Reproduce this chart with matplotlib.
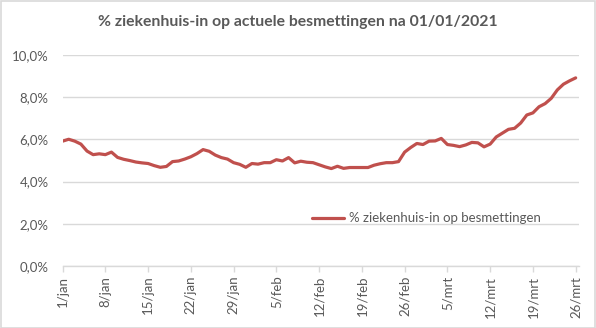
import matplotlib
matplotlib.use("Agg")
import matplotlib.pyplot as plt
from matplotlib.patches import Rectangle
from matplotlib.ticker import FuncFormatter

title = "% ziekenhuis-in op actuele besmettingen na 01/01/2021"
series_name = "% ziekenhuis-in op besmettingen"

# daily values from 1/jan (day 0) to 26/mrt (day 84), in %
values = [
    5.92, 6.01, 5.92, 5.78, 5.45, 5.28, 5.32, 5.28, 5.40, 5.15,
    5.06, 5.00, 4.93, 4.89, 4.86, 4.76, 4.68, 4.72, 4.95, 4.98,
    5.07, 5.18, 5.33, 5.52, 5.44, 5.26, 5.14, 5.07, 4.90, 4.82,
    4.68, 4.86, 4.83, 4.90, 4.90, 5.04, 4.98, 5.14, 4.89, 4.97,
    4.92, 4.90, 4.80, 4.70, 4.62, 4.73, 4.63, 4.67, 4.67, 4.67,
    4.67, 4.78, 4.85, 4.90, 4.90, 4.95, 5.40, 5.62, 5.81, 5.76,
    5.92, 5.93, 6.05, 5.76, 5.72, 5.66, 5.74, 5.86, 5.84, 5.65,
    5.78, 6.12, 6.30, 6.48, 6.53, 6.78, 7.16, 7.26, 7.55, 7.70,
    7.95, 8.35, 8.62, 8.78, 8.92,
]
tick_days = [0, 7, 14, 21, 28, 35, 42, 49, 56, 63, 70, 77, 84]
tick_labels = ["1/jan", "8/jan", "15/jan", "22/jan", "29/jan", "5/feb", "12/feb",
               "19/feb", "26/feb", "5/mrt", "12/mrt", "19/mrt", "26/mrt"]
y_ticks = [0, 2, 4, 6, 8, 10]

plt.rcParams['font.family'] = ['Lato', 'DejaVu Sans']
text_color = "#595959"
grid_color = "#D9D9D9"
line_color = "#C0504D"

fig = plt.figure(figsize=(5.96, 3.28), dpi=100)
fig.patch.set_facecolor("white")
fig.add_artist(Rectangle((0.001, 0.001), 0.997, 0.997, transform=fig.transFigure,
                         fill=False, edgecolor="#D9D9D9", linewidth=1.2))

ax = fig.add_axes([0.105, 0.189, 0.866, 0.643])
days = list(range(len(values)))
ax.plot(days, values, color=line_color, linewidth=2.3, label=series_name,
        solid_joinstyle="round", solid_capstyle="round")

ax.set_ylim(0, 10)
ax.set_xlim(0, 84.5)
ax.set_yticks(y_ticks)
ax.yaxis.set_major_formatter(FuncFormatter(lambda v, p: f"{v:.1f}%".replace(".", ",")))
ax.set_xticks(tick_days)
ax.set_xticklabels(tick_labels, rotation=90)

for s in ["top", "right", "left"]:
    ax.spines[s].set_visible(False)
ax.spines["bottom"].set_color(grid_color)
ax.spines["bottom"].set_linewidth(1.0)
ax.grid(axis="y", color=grid_color, linewidth=1.0)
ax.set_axisbelow(True)
ax.tick_params(axis="y", length=0, pad=10, labelsize=9.5, labelcolor=text_color)
ax.tick_params(axis="x", length=4, color=grid_color, width=1.0, pad=3,
               labelsize=9.5, labelcolor=text_color)

fig.text(0.5, 0.933, title, ha="center", va="center", fontsize=11.3, fontweight="bold",
         color=text_color)

leg = ax.legend(loc="center left", bbox_to_anchor=(0.513, 0.335),
                bbox_transform=fig.transFigure, frameon=False, borderpad=0,
                handlelength=2.4, handletextpad=0.4, fontsize=9.5)
for t in leg.get_texts():
    t.set_color(text_color)

fig.savefig("out.png", dpi=100, facecolor="white")
